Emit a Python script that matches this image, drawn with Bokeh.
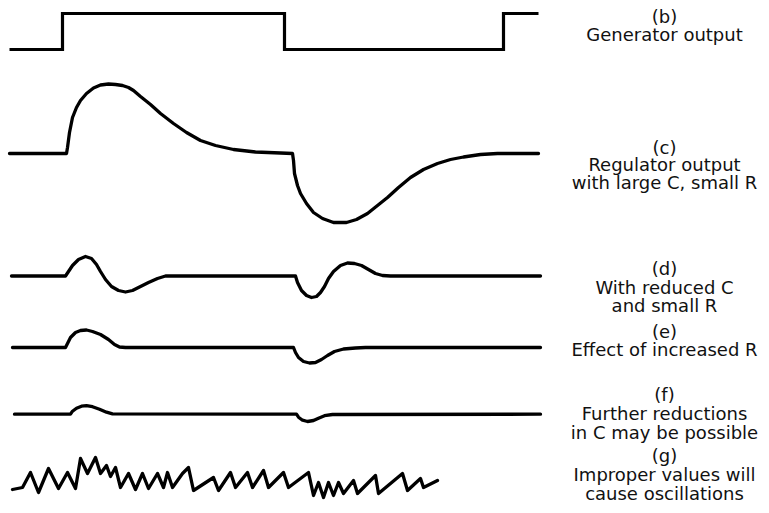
from bokeh.plotting import figure
from bokeh.models import Range1d
from bokeh.core.properties import value
from bokeh.embed import file_html
from bokeh.resources import INLINE

# ---- data: time (t) and signal amplitude (v, positive = up) of each trace ----
b_t = [9, 62, 284, 503, 538]
b_v = [0, 36, 0, 36, 36]

c_t = [9, 66, 67, 69, 72, 76, 80, 86, 93, 100, 108, 115, 122, 128, 133, 140, 150, 160, 173, 186,
       200, 215, 233, 255, 280, 292, 293, 294, 297, 300, 306, 313, 322, 333, 346, 356, 367, 377,
       387, 398, 410, 423, 437, 450, 463, 480, 497, 538]
c_v = [0, 0, 6, 21, 36, 46, 53, 60, 65.5, 68.5, 69.5, 69, 68, 66, 63, 57, 49, 40, 30, 21,
       13, 8, 4, 1.5, 0.5, 0, -7, -20, -32, -40, -50, -59, -65, -69, -69, -66, -60, -52,
       -44, -34, -24, -16, -10, -6, -3.5, -1, 0, 0]

d_t = [11, 65, 68, 72, 78, 85, 91, 96, 100, 105, 111, 118, 125, 132, 140, 148, 157, 165, 295,
       297, 301, 306, 311, 316, 320, 324, 328, 333, 340, 347, 354, 361, 368, 375, 382, 390, 540]
d_v = [0, 0, 4.5, 10.5, 16.5, 19.5, 17.5, 11.5, 4.5, -3.5, -10.5, -14.5, -16, -14.5, -10.5, -6.5,
       -2.5, 0, 0, -6.5, -14.5, -19.5, -21.5, -20.5, -16.5, -10.5, -2.5, 4.5, 10.5, 13, 12.5,
       10.5, 6.5, 2.5, 0.5, 0, 0]

e_t = [12, 65, 67, 70, 75, 80, 86, 92, 100, 108, 114, 119, 125, 293, 295, 298, 303, 309, 315,
       321, 327, 334, 343, 355, 365, 540]
e_v = [0, 0, 4, 10, 15, 17, 17.5, 16, 13, 8, 3, 0.5, 0, 0, -5, -10, -14, -15.5, -15, -12, -8,
       -4, -1.5, -0.5, 0, 0]

f_t = [14, 70, 72, 76, 81, 86, 92, 99, 106, 112, 296, 298, 302, 307, 313, 318, 324, 332, 540]
f_v = [0, 0, 3, 6, 8, 8.5, 7.5, 5, 2, 0.3, 0, -3, -6, -7.3, -6.3, -4, -1.5, -0.3, 0]

g_t = [12, 22, 30, 38, 48, 58, 67, 75, 80, 87, 95, 100, 106, 110, 115, 120, 128, 135, 142, 148,
       157, 163, 167, 172, 182, 188, 193, 213, 218, 230, 235, 247, 252, 263, 268, 283, 288, 308,
       313, 318, 323, 328, 333, 338, 343, 353, 357, 375, 378, 402, 407, 420, 423, 437]
g_v = [-6, -4, 11, -9, 15, -5, 11, -5, 25, 10, 26, 10, 18, 7, 16, -4, 10, -6, 10, -5,
       10, -4, 11, -4, 10, 16, -7, 6, -7, 11, -4, 11, -4, 13, -4, 11, -4, 11,
       -12, 1, -14, 1, -12, 1, -10, 3, -10, 8, -10, 10, -7, 5, -4, 3]

labels = [
    ["(b)", "Generator output"],
    ["(c)", "Regulator output", "with large C, small R"],
    ["(d)", "With reduced C", "and small R"],
    ["(e)", "Effect of increased R"],
    ["(f)", "Further reductions", "in C may be possible"],
    ["(g)", "Improper values will", "cause oscillations"],
]

# ---- layout (pixel-like coordinates, y downward) ----
W, H = 761, 505
p = figure(width=W, height=H, output_backend="svg", toolbar_location=None,
           x_range=Range1d(0, W), y_range=Range1d(H, 0),
           x_axis_location=None, y_axis_location=None, min_border=0)
p.grid.visible = False
p.outline_line_color = None
p.background_fill_color = "white"
p.border_fill_color = "white"

baselines = [49, 153, 275.5, 347, 413.7, 483]
traces = [(b_t, b_v), (c_t, c_v), (d_t, d_v), (e_t, e_v), (f_t, f_v), (g_t, g_v)]
for i, ((t, v), base) in enumerate(zip(traces, baselines)):
    ys = [base - a for a in v]
    if i == 0:
        p.step(t, ys, mode="after", line_color="black", line_width=3.2, line_join="miter")
    else:
        p.line(t, ys, line_color="black", line_width=3.3, line_join="round", line_cap="round")

label_y = [[16, 34], [147, 164, 182], [268, 287, 305], [331, 349], [394, 413, 432], [455, 474, 493]]
xs, ys, txt = [], [], []
for lines, yy in zip(labels, label_y):
    for s, y in zip(lines, yy):
        xs.append(664)
        ys.append(y)
        txt.append(s)
p.text(x=xs, y=ys, text=txt, text_align="center", text_baseline="middle",
       text_font=value("DejaVu Sans"), text_font_size="18px", text_color="#111111")

open("out.html", "w").write(file_html(p, INLINE))
